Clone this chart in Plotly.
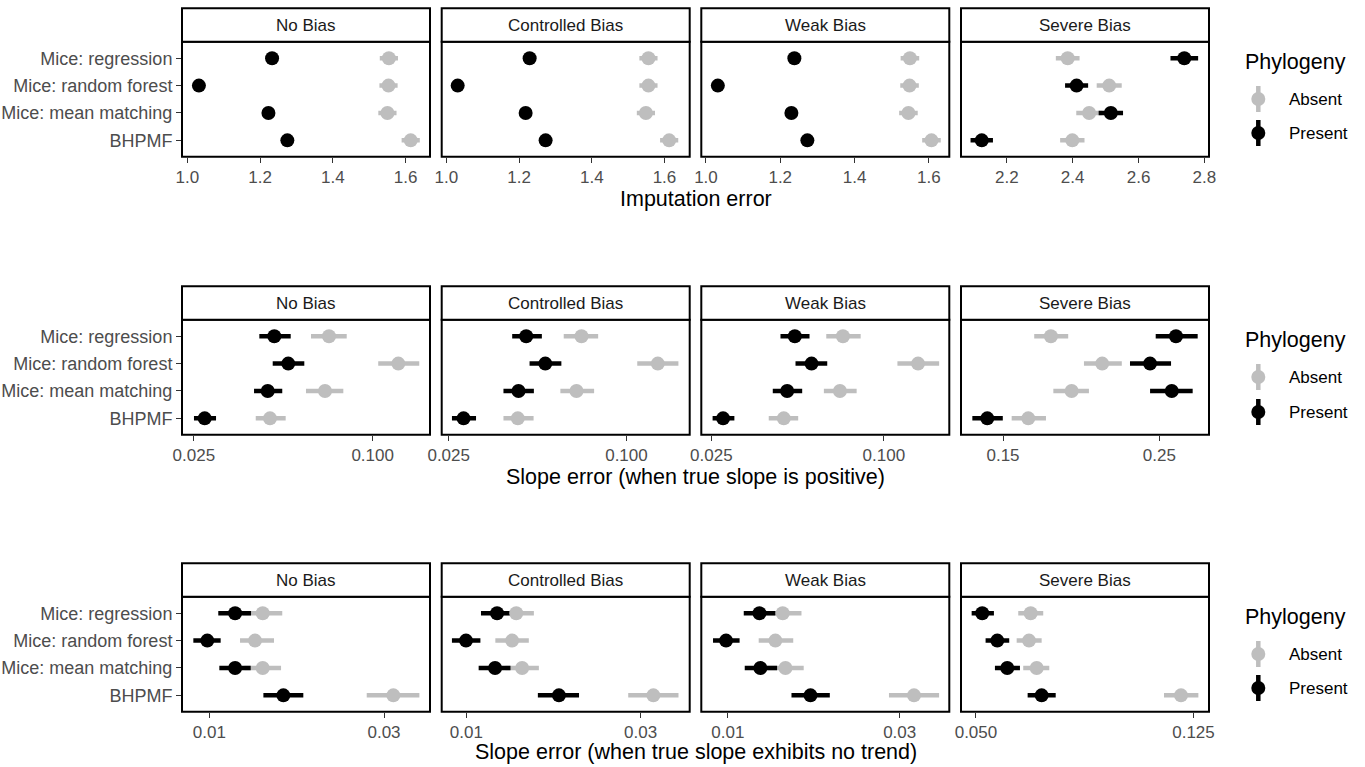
import plotly.graph_objects as go

# ---------------------------------------------------------------- data
methods = ["Mice: regression", "Mice: random forest", "Mice: mean matching", "BHPMF"]
bias_levels = ["No Bias", "Controlled Bias", "Weak Bias", "Severe Bias"]
phylogeny = ["Absent", "Present"]

# Imputation error: one inner list per bias level, values in `methods` order
imp_absent_est = [[1.554, 1.553, 1.550, 1.614], [1.556, 1.556, 1.549, 1.613],
                  [1.549, 1.548, 1.545, 1.607], [2.385, 2.511, 2.450, 2.399]]
imp_absent_lo = [[1.529, 1.528, 1.525, 1.589], [1.531, 1.531, 1.524, 1.588],
                 [1.524, 1.523, 1.520, 1.582], [2.349, 2.473, 2.411, 2.362]]
imp_absent_hi = [[1.579, 1.578, 1.575, 1.639], [1.581, 1.581, 1.574, 1.638],
                 [1.574, 1.573, 1.570, 1.632], [2.421, 2.549, 2.489, 2.436]]
imp_present_est = [[1.233, 1.032, 1.223, 1.275], [1.229, 1.031, 1.218, 1.273],
                   [1.238, 1.032, 1.230, 1.273], [2.739, 2.412, 2.516, 2.124]]
imp_present_lo = [[1.221, 1.020, 1.211, 1.263], [1.217, 1.019, 1.206, 1.261],
                  [1.226, 1.020, 1.218, 1.261], [2.697, 2.377, 2.479, 2.090]]
imp_present_hi = [[1.245, 1.044, 1.235, 1.287], [1.241, 1.043, 1.230, 1.285],
                  [1.250, 1.044, 1.242, 1.285], [2.781, 2.447, 2.553, 2.158]]

# Slope error when the true slope is positive
pos_absent_est = [[0.07128, 0.1220, 0.06911, 0.04511], [0.07043, 0.1277, 0.06773, 0.04285],
                  [0.07197, 0.1316, 0.07025, 0.04475], [0.1754, 0.2074, 0.1877, 0.1629]]
pos_absent_lo = [[0.06199, 0.1044, 0.05963, 0.04039], [0.06131, 0.1088, 0.05973, 0.03832],
                 [0.06295, 0.1115, 0.06176, 0.03966], [0.1661, 0.1954, 0.1768, 0.1543]]
pos_absent_hi = [[0.08177, 0.1435, 0.07965, 0.05094], [0.08020, 0.1500, 0.07772, 0.04847],
                 [0.08299, 0.1559, 0.08035, 0.05024], [0.1856, 0.2211, 0.1986, 0.1726]]
pos_present_est = [[0.04665, 0.05197, 0.04432, 0.02719], [0.04576, 0.05310, 0.04309, 0.02807],
                   [0.04890, 0.05593, 0.04598, 0.02748], [0.2639, 0.2425, 0.2603, 0.1425]]
pos_present_lo = [[0.04153, 0.04607, 0.03986, 0.02502], [0.04102, 0.04697, 0.03832, 0.02564],
                  [0.04358, 0.04917, 0.04096, 0.02526], [0.2470, 0.2271, 0.2425, 0.1357]]
pos_present_hi = [[0.05297, 0.05886, 0.04961, 0.02969], [0.05170, 0.06020, 0.04858, 0.03094],
                  [0.05503, 0.06345, 0.05188, 0.03009], [0.2833, 0.2597, 0.2787, 0.1499]]

# Slope error when the true slope exhibits no trend
flat_absent_est = [[0.01399, 0.01333, 0.01399, 0.03181], [0.01370, 0.01335, 0.01422, 0.03251],
                   [0.01420, 0.01355, 0.01445, 0.03287], [0.06296, 0.06252, 0.06457, 0.1186]]
flat_absent_lo = [[0.01236, 0.01213, 0.01247, 0.02691], [0.01225, 0.01201, 0.01280, 0.02775],
                  [0.01260, 0.01218, 0.01285, 0.02801], [0.05975, 0.05935, 0.06102, 0.1104]]
flat_absent_hi = [[0.01582, 0.01502, 0.01570, 0.03747], [0.01531, 0.01483, 0.01580, 0.03809],
                  [0.01601, 0.01519, 0.01624, 0.03859], [0.06638, 0.06594, 0.06809, 0.1276]]
flat_present_est = [[0.01176, 0.009874, 0.01176, 0.01593], [0.01214, 0.009982, 0.01199, 0.01793],
                    [0.01224, 0.009886, 0.01231, 0.01696], [0.05134, 0.05470, 0.05705, 0.06594]]
flat_present_lo = [[0.01058, 0.009044, 0.01065, 0.01405], [0.01097, 0.009135, 0.01081, 0.01570],
                   [0.01107, 0.009096, 0.01114, 0.01502], [0.04910, 0.05207, 0.05416, 0.06216]]
flat_present_hi = [[0.01300, 0.01074, 0.01297, 0.01806], [0.01355, 0.01093, 0.01321, 0.02035],
                   [0.01355, 0.01078, 0.01370, 0.01919], [0.05393, 0.05752, 0.06018, 0.06996]]

# tick marks per panel (first three panels share breaks, severe-bias panel has its own)
imp_ticks = [1.0, 1.2, 1.4, 1.6]
imp_ticks_severe = [2.2, 2.4, 2.6, 2.8]
pos_ticks = [0.025, 0.1]
pos_ticklabels = ["0.025", "0.100"]
pos_ticks_severe = [0.15, 0.25]
pos_ticklabels_severe = ["0.15", "0.25"]
flat_ticks = [0.01, 0.03]
flat_ticklabels = ["0.01", "0.03"]
flat_ticks_severe = [0.05, 0.125]
flat_ticklabels_severe = ["0.050", "0.125"]

axis_titles = ["Imputation error",
               "Slope error (when true slope is positive)",
               "Slope error (when true slope exhibits no trend)"]

# ---------------------------------------------------------------- layout constants
W, H = 1365, 767
FONT = "Liberation Sans, Arial, sans-serif"
GREY_PT = "#BEBEBE"
BLACK_PT = "#000000"
AXIS_TXT = "#4D4D4D"

panel_left = [182, 441.7, 701.3, 961]
panel_w = 248
strip_top = [8.3, 286.3, 563.3]
strip_h = 33.5
panel_h = 115
title_y = [199, 477, 752]
legend_title_y = [62, 340, 617]
legend_item_y = [[99, 133], [377, 412], [654, 688]]

rows = [
    dict(absent=(imp_absent_est, imp_absent_lo, imp_absent_hi),
         present=(imp_present_est, imp_present_lo, imp_present_hi),
         type="linear",
         ranges=[[0.9855, 1.667], [0.987, 1.6695], [0.9875, 1.655], [2.061, 2.814]],
         ticks=[(imp_ticks, [f"{v:.1f}" for v in imp_ticks])] * 3
               + [(imp_ticks_severe, [f"{v:.1f}" for v in imp_ticks_severe])]),
    dict(absent=(pos_absent_est, pos_absent_lo, pos_absent_hi),
         present=(pos_present_est, pos_present_lo, pos_present_hi),
         type="log",
         ranges=[[-1.642, -0.807], [-1.6258, -0.7857], [-1.637, -0.7717], [-0.8835, -0.5317]],
         ticks=[(pos_ticks, pos_ticklabels)] * 3 + [(pos_ticks_severe, pos_ticklabels_severe)]),
    dict(absent=(flat_absent_est, flat_absent_lo, flat_absent_hi),
         present=(flat_present_est, flat_present_lo, flat_present_hi),
         type="log",
         ranges=[[-2.0746, -1.3973], [-2.0673, -1.3885], [-2.0737, -1.3852], [-1.3284, -0.8747]],
         ticks=[(flat_ticks, flat_ticklabels)] * 3 + [(flat_ticks_severe, flat_ticklabels_severe)]),
]


def px(x):
    return x / W


def py(y):
    return 1 - y / H


fig = go.Figure()
shapes = []
annotations = []
layout_axes = {}

for r, row in enumerate(rows):
    top = strip_top[r] + strip_h
    bottom = top + panel_h
    for c, bias in enumerate(bias_levels):
        k = r * 4 + c + 1
        xname = "x" if k == 1 else f"x{k}"
        yname = "y" if k == 1 else f"y{k}"
        left = panel_left[c]

        series = [(row["absent"], GREY_PT), (row["present"], BLACK_PT)]
        # ranges first (all of them), then the points on top
        for (est, lo, hi), col in series:
            e, l_, h_ = est[c], lo[c], hi[c]
            fig.add_trace(go.Scatter(
                x=e, y=methods, xaxis=xname, yaxis=yname, mode="markers",
                marker=dict(size=1, color=col), showlegend=False, hoverinfo="skip",
                error_x=dict(type="data", symmetric=False,
                             array=[b - a for a, b in zip(e, h_)],
                             arrayminus=[a - b for a, b in zip(e, l_)],
                             color=col, thickness=4.5, width=0)))
        for ((est, lo, hi), col), name in zip(series, phylogeny):
            fig.add_trace(go.Scatter(
                x=est[c], y=methods, xaxis=xname, yaxis=yname, mode="markers",
                name=name, showlegend=False,
                marker=dict(size=14, color=col, line=dict(width=0))))

        tv, tt = row["ticks"][c]
        layout_axes["xaxis" if k == 1 else f"xaxis{k}"] = dict(
            domain=[px(left), px(left + panel_w)], anchor=yname, type=row["type"],
            range=row["ranges"][c], tickvals=tv, ticktext=tt, ticks="outside",
            ticklen=5, tickwidth=1.3, tickcolor="#333333", showgrid=False,
            zeroline=False, showline=False, automargin=False,
            tickfont=dict(family=FONT, size=17, color=AXIS_TXT))
        layout_axes["yaxis" if k == 1 else f"yaxis{k}"] = dict(
            domain=[py(bottom), py(top)], anchor=xname, type="category",
            categoryorder="array", categoryarray=methods[::-1], range=[-0.6, 3.6],
            showgrid=False, zeroline=False, showline=False, automargin=False,
            ticks="outside" if c == 0 else "", ticklen=5, tickwidth=1.3,
            tickcolor="#333333", showticklabels=(c == 0),
            tickfont=dict(family=FONT, size=18, color=AXIS_TXT))

        # panel border
        shapes.append(dict(type="rect", xref="paper", yref="paper",
                           x0=px(left), x1=px(left + panel_w), y0=py(bottom), y1=py(top),
                           line=dict(color="#000000", width=2), layer="above"))
        # strip
        shapes.append(dict(type="rect", xref="paper", yref="paper",
                           x0=px(left), x1=px(left + panel_w),
                           y0=py(top), y1=py(strip_top[r]),
                           fillcolor="white", line=dict(color="#000000", width=2),
                           layer="above"))
        annotations.append(dict(text=bias, xref="paper", yref="paper",
                                x=px(left + panel_w / 2), y=py(strip_top[r] + strip_h / 2),
                                xanchor="center", yanchor="middle", showarrow=False,
                                font=dict(family=FONT, size=17, color="#1A1A1A")))

    # shared axis title of the row
    annotations.append(dict(text=axis_titles[r], xref="paper", yref="paper",
                            x=px((panel_left[0] + panel_left[3] + panel_w) / 2),
                            y=py(title_y[r]), xanchor="center", yanchor="middle",
                            showarrow=False, font=dict(family=FONT, size=21.5, color="#000000")))

    # legend of the row
    annotations.append(dict(text="Phylogeny", xref="paper", yref="paper",
                            x=px(1243), y=py(legend_title_y[r]), xanchor="left",
                            yanchor="middle", showarrow=False,
                            font=dict(family=FONT, size=21.5, color="#000000")))
    for name, col, yc in zip(phylogeny, [GREY_PT, BLACK_PT], legend_item_y[r]):
        kx = 1258.3
        shapes.append(dict(type="line", xref="paper", yref="paper",
                           x0=px(kx), x1=px(kx), y0=py(yc - 13), y1=py(yc + 13),
                           line=dict(color=col, width=4.5)))
        shapes.append(dict(type="circle", xref="paper", yref="paper",
                           x0=px(kx - 7), x1=px(kx + 7), y0=py(yc + 7), y1=py(yc - 7),
                           fillcolor=col, line=dict(width=0)))
        annotations.append(dict(text=name, xref="paper", yref="paper",
                                x=px(1287), y=py(yc), xanchor="left", yanchor="middle",
                                showarrow=False,
                                font=dict(family=FONT, size=17, color="#000000")))

fig.update_layout(
    width=W, height=H, autosize=False,
    margin=dict(l=0, r=0, t=0, b=0),
    paper_bgcolor="white", plot_bgcolor="white",
    font=dict(family=FONT),
    showlegend=False,
    shapes=shapes, annotations=annotations,
    **layout_axes,
)

fig.write_html("out.html")
